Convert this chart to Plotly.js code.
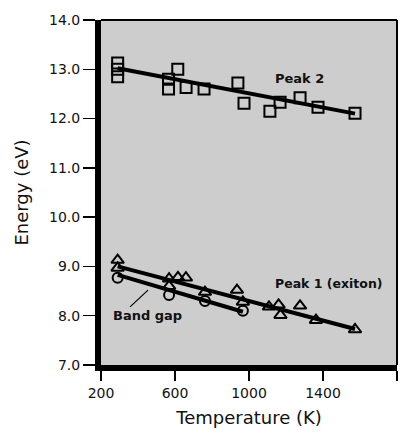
<!DOCTYPE html>
<html><head><meta charset="utf-8">
<script src="https://cdn.plot.ly/plotly-3.0.1.min.js"></script>
<style>html,body{margin:0;padding:0;background:#fff;}#chart{width:414px;height:436px;}</style>
</head><body><div id="chart"></div>
<script>
// Peak 2 (squares)
const peak2T = [290, 290, 290, 565, 565, 615, 660, 757, 940, 973, 1113, 1168, 1276, 1373, 1573];
const peak2E = [13.13, 13.0, 12.85, 12.8, 12.6, 13.0, 12.63, 12.6, 12.72, 12.31, 12.15, 12.33, 12.42, 12.23, 12.11];
// Peak 1 (exiton) (triangles)
const peak1T = [290, 290, 568, 568, 616, 659, 762, 935, 967, 1108, 1160, 1170, 1276, 1362, 1573];
const peak1E = [9.13, 8.97, 8.75, 8.6, 8.78, 8.77, 8.48, 8.52, 8.28, 8.18, 8.22, 8.01, 8.2, 7.91, 7.72];
// Band gap (circles)
const gapT = [290, 568, 762, 967];
const gapE = [8.77, 8.42, 8.3, 8.1];
// Fitted lines
const peak2FitT = [290, 1573], peak2FitE = [13.02, 12.1];
const peak1FitT = [290, 1573], peak1FitE = [9.0, 7.73];
const gapFitT = [290, 967], gapFitE = [8.83, 8.08];
// Axis ticks
const xTicks = [200, 600, 1000, 1400, 1800];
const yTicks = [7, 8, 9, 10, 11, 12, 13, 14];

const fam = 'DejaVu Sans, Verdana, sans-serif';
const lineT = (x, y) => ({x, y, mode: 'lines', type: 'scatter', line: {color: '#000', width: 4}, hoverinfo: 'skip', showlegend: false});
const markT = (x, y, sym, size) => ({x, y, mode: 'markers', type: 'scatter', showlegend: false,
  marker: {symbol: sym, size: size, color: '#000', line: {color: '#000', width: 2}}});

const data = [
  lineT(peak2FitT, peak2FitE),
  lineT(peak1FitT, peak1FitE),
  lineT(gapFitT, gapFitE),
  markT(peak2T, peak2E, 'square-open', 11),
  markT(peak1T, peak1E, 'triangle-up-open', 11),
  markT(gapT, gapE, 'circle-open', 10)
];

const layout = {
  width: 414, height: 436,
  margin: {l: 101, r: 17, t: 20, b: 71},
  paper_bgcolor: '#fff', plot_bgcolor: '#cdcdcd',
  font: {family: fam, color: '#111'},
  xaxis: {range: [200, 1800], tickvals: xTicks, ticktext: xTicks.map(String),
    showgrid: false, zeroline: false, showline: true, linewidth: 6, linecolor: '#000',
    ticks: 'outside', ticklen: 10, tickwidth: 1.5, tickcolor: '#000',
    tickfont: {size: 14, family: fam, color: '#111'},
    title: {text: 'Temperature (K)', font: {size: 18, family: fam, color: '#111'}, standoff: 14}},
  yaxis: {range: [7, 14], tickvals: yTicks, ticktext: yTicks.map(v => v.toFixed(1)),
    showgrid: false, zeroline: false, showline: true, linewidth: 6, linecolor: '#000',
    ticks: 'outside', ticklen: 12, tickwidth: 1.5, tickcolor: '#000',
    tickfont: {size: 14, family: fam, color: '#111'},
    title: {text: 'Energy (eV)', font: {size: 18, family: fam, color: '#111'}, standoff: 18}},
  shapes: [
    {type: 'line', xref: 'paper', yref: 'paper', x0: 0, x1: 1, y0: 1, y1: 1, line: {color: '#000', width: 2}},
    {type: 'line', xref: 'paper', yref: 'paper', x0: 1, x1: 1, y0: 0, y1: 1, line: {color: '#000', width: 2}},
    {type: 'line', xref: 'x', yref: 'y', x0: 357, y0: 8.18, x1: 454, y1: 8.52, line: {color: '#000', width: 1.2}}
  ],
  annotations: [
    {x: 1130, y: 12.82, xref: 'x', yref: 'y', text: '<b>Peak 2</b>', showarrow: false, xanchor: 'left',
      font: {size: 13, family: fam, color: '#111'}},
    {x: 1130, y: 8.66, xref: 'x', yref: 'y', text: '<b>Peak 1 (exiton)</b>', showarrow: false, xanchor: 'left',
      font: {size: 12.5, family: fam, color: '#111'}},
    {x: 254, y: 8.01, xref: 'x', yref: 'y', text: '<b>Band gap</b>', showarrow: false, xanchor: 'left',
      font: {size: 13, family: fam, color: '#111'}}
  ]
};
Plotly.newPlot('chart', data, layout, {displayModeBar: false, staticPlot: true});
</script></body></html>
